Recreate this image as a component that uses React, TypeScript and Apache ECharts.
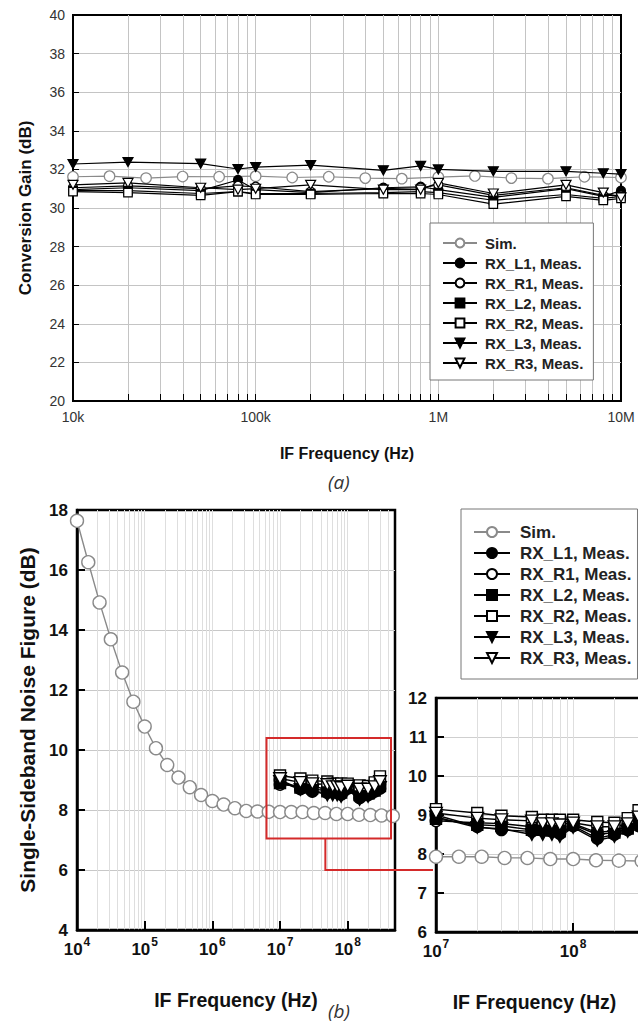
import React, { useEffect, useRef } from 'react';
import * as echarts from 'echarts';

// ---------- (a) Conversion gain ----------
const gainFreqHz = [1e4, 2e4, 5e4, 8e4, 1e5, 2e5, 5e5, 8e5, 1e6, 2e6, 5e6, 8e6, 1e7];
const gainSimFreqHz = [1e4, 1.585e4, 2.512e4, 3.981e4, 6.31e4, 1e5, 1.585e5, 2.512e5, 3.981e5, 6.31e5, 1e6, 1.585e6, 2.512e6, 3.981e6, 6.31e6, 1e7];
const gainSim = [31.62, 31.65, 31.55, 31.63, 31.62, 31.65, 31.58, 31.62, 31.55, 31.52, 31.6, 31.66, 31.55, 31.52, 31.62, 31.58];
const gainL1 = [30.95, 31.05, 30.9, 31.45, 30.95, 30.8, 31.05, 31.1, 30.95, 30.55, 31.0, 30.6, 30.9];
const gainR1 = [31.05, 31.15, 31.0, 31.15, 31.1, 30.85, 31.0, 31.05, 31.2, 30.65, 31.05, 30.65, 30.65];
const gainL2 = [30.9, 30.9, 30.75, 30.85, 30.75, 30.75, 30.8, 30.85, 30.8, 30.4, 30.7, 30.5, 30.6];
const gainR2 = [30.85, 30.8, 30.65, 30.85, 30.7, 30.7, 30.75, 30.75, 30.7, 30.2, 30.6, 30.4, 30.5];
const gainL3 = [32.28, 32.38, 32.3, 32.02, 32.12, 32.22, 31.95, 32.18, 32.0, 31.9, 31.9, 31.8, 31.76];
const gainR3 = [31.2, 31.3, 31.05, 30.95, 31.0, 31.2, 30.95, 30.95, 31.3, 30.75, 31.2, 30.8, 30.55];
const gainXTickLabels = ['10k', '100k', '1M', '10M'];
const gainYTicks = [20, 22, 24, 26, 28, 30, 32, 34, 36, 38, 40];

// ---------- (b) Noise figure ----------
const nfSimFreqHz = [1e4, 1.468e4, 2.154e4, 3.162e4, 4.642e4, 6.813e4, 1e5, 1.468e5, 2.154e5, 3.162e5, 4.642e5, 6.813e5, 1e6, 1.468e6, 2.154e6, 3.162e6, 4.642e6, 6.813e6, 1e7, 1.468e7, 2.154e7, 3.162e7, 4.642e7, 6.813e7, 1e8, 1.468e8, 2.154e8, 3.162e8, 4.642e8];
const nfSim = [17.64, 16.26, 14.92, 13.69, 12.58, 11.61, 10.78, 10.06, 9.5, 9.08, 8.76, 8.5, 8.3, 8.18, 8.06, 7.97, 7.95, 7.94, 7.93, 7.93, 7.93, 7.9, 7.9, 7.87, 7.87, 7.84, 7.83, 7.82, 7.8];
const nfFreqHz = [1e7, 2e7, 3e7, 5e7, 6e7, 7e7, 8e7, 1e8, 1.5e8, 2e8, 2.5e8, 3e8];
const nfL1 = [9.0, 8.7, 8.62, 8.58, 8.6, 8.58, 8.52, 8.72, 8.4, 8.5, 8.62, 8.72];
const nfR1 = [8.85, 8.8, 8.78, 8.7, 8.68, 8.68, 8.65, 8.78, 8.55, 8.6, 8.7, 8.85];
const nfL2 = [8.9, 8.75, 8.72, 8.62, 8.62, 8.6, 8.58, 8.75, 8.5, 8.55, 8.65, 8.8];
const nfR2 = [9.15, 9.05, 8.98, 8.95, 8.88, 8.88, 8.88, 8.88, 8.82, 8.8, 8.92, 9.12];
const nfL3 = [8.95, 8.68, 8.65, 8.5, 8.5, 8.5, 8.45, 8.68, 8.35, 8.45, 8.58, 8.75];
const nfR3 = [9.05, 8.92, 8.88, 8.85, 8.78, 8.78, 8.75, 8.8, 8.7, 8.7, 8.78, 8.95];
const nfDecadeExponents = ['4', '5', '6', '7', '8'];
const nfYTicks = [4, 6, 8, 10, 12, 14, 16, 18];
const insetYTicks = [6, 7, 8, 9, 10, 11, 12];

// zoom-box annotation (log10 Hz, dB)
const zoomBoxLogHz = [6.8, 8.64];
const zoomBoxDb = [7.05, 10.4];
const connectorLogHz = 7.67;
const connectorDb = 6;

const seriesNames = ['Sim.', 'RX_L1, Meas.', 'RX_R1, Meas.', 'RX_L2, Meas.', 'RX_R2, Meas.', 'RX_L3, Meas.', 'RX_R3, Meas.'];
const mantissas = [1, 2, 3, 4, 5, 6, 7, 8, 9];

const GRAY = '#8a8a8a';
const TRI_DOWN = 'path://M0,0L12,0L6,10.4Z';
const FONT = '"Liberation Sans", Arial, sans-serif';

const styles = [
  { symbol: 'circle', filled: false, gray: true },
  { symbol: 'circle', filled: true, gray: false },
  { symbol: 'circle', filled: false, gray: false },
  { symbol: 'rect', filled: true, gray: false },
  { symbol: 'rect', filled: false, gray: false },
  { symbol: TRI_DOWN, filled: true, gray: false },
  { symbol: TRI_DOWN, filled: false, gray: false },
];

function logPositions(d0: number, d1: number, lo: number, hi: number) {
  const out: number[] = [];
  for (let d = d0; d <= d1; d++) {
    for (const m of mantissas) {
      const v = d + Math.log10(m);
      if (v > lo + 1e-9 && v < hi - 1e-9) out.push(v);
    }
  }
  return out;
}

function buildSeries(xAxisIndex: number, yAxisIndex: number, sets: [number[], number[]][], big: boolean) {
  return sets.map(([fx, vy], i) => {
    const st = styles[i];
    const c = st.gray ? GRAY : '#000';
    const base = big ? 11.5 : 9;
    let size: any = st.gray ? base + 1.5 : base;
    if (st.symbol === 'rect') size = base - 0.5;
    if (st.symbol === TRI_DOWN) size = [base + 1, base];
    return {
      type: 'line',
      name: seriesNames[i],
      xAxisIndex,
      yAxisIndex,
      data: fx.map((f, k) => [Math.log10(f), vy[k]]),
      symbol: st.symbol,
      symbolSize: size,
      showSymbol: true,
      showAllSymbol: true,
      lineStyle: { color: c, width: big ? 1.4 : 1.2 },
      itemStyle: { color: st.filled ? '#000' : '#fff', borderColor: c, borderWidth: big ? 1.4 : 1.2 },
      emphasis: { disabled: true },
      silent: true,
      clip: true,
      z: st.gray ? 2 : 3,
      animation: false,
    };
  });
}

const nfMaxLog = Math.log10(5e8);

const axisNameBold = (size: number) => ({ fontSize: size, fontWeight: 'bold', color: '#111', fontFamily: FONT });

const decadeLabel = {
  formatter: (v: number) => `{b|10}{s|${nfDecadeExponents[Math.round(v) - 4]}}`,
  rich: {
    b: { fontSize: 17, fontWeight: 'bold', color: '#111', fontFamily: FONT, lineHeight: 22, verticalAlign: 'bottom' },
    s: { fontSize: 12, fontWeight: 'bold', color: '#111', fontFamily: FONT, lineHeight: 22, verticalAlign: 'top', padding: [0, 0, 6, 1] },
  },
  margin: 6,
};

const option: any = {
  animation: false,
  backgroundColor: '#fff',
  textStyle: { fontFamily: FONT },
  grid: [
    { left: 73, top: 15, width: 548, height: 386, show: true, borderColor: '#000', borderWidth: 2, containLabel: false, outerBoundsMode: 'none' },
    { left: 77, top: 510, width: 318, height: 420, show: true, borderColor: '#000', borderWidth: 2.5, containLabel: false, outerBoundsMode: 'none' },
    { left: 436, top: 698, width: 233, height: 234, show: true, borderColor: '#000', borderWidth: 2.5, containLabel: false, outerBoundsMode: 'none' },
  ],
  xAxis: [
    {
      gridIndex: 0, type: 'value', min: 4, max: 7,
      axisLine: { show: true, onZero: false, lineStyle: { color: '#000', width: 2 } },
      axisTick: { show: true, inside: true, length: 7, customValues: logPositions(4, 6, 4, 7), lineStyle: { color: '#000', width: 1 } },
      axisLabel: { customValues: [4, 5, 6, 7], formatter: (v: number) => gainXTickLabels[Math.round(v) - 4], fontSize: 14, color: '#333', margin: 9 },
      splitLine: { show: true, lineStyle: { color: '#c4c4c4', width: 1 } },
      name: 'IF Frequency (Hz)', nameLocation: 'middle', nameGap: 44, nameMoveOverlap: false,
      nameTextStyle: axisNameBold(16),
    },
    {
      gridIndex: 1, type: 'value', min: 4, max: nfMaxLog,
      axisLine: { show: true, onZero: false, lineStyle: { color: '#000', width: 2.5 } },
      axisTick: { show: true, inside: true, length: 9, customValues: [5, 6, 7, 8], lineStyle: { color: '#000', width: 2 } },
      axisLabel: { customValues: [4, 5, 6, 7, 8], ...decadeLabel },
      splitLine: { show: false },
      name: 'IF Frequency (Hz)', nameLocation: 'middle', nameGap: 60, nameMoveOverlap: false,
      nameTextStyle: axisNameBold(19.5),
    },
    {
      gridIndex: 2, type: 'value', min: 7, max: nfMaxLog,
      axisLine: { show: true, onZero: false, lineStyle: { color: '#000', width: 2.5 } },
      axisTick: { show: true, inside: true, length: 9, customValues: [8], lineStyle: { color: '#000', width: 2 } },
      axisLabel: { customValues: [7, 8], ...decadeLabel },
      splitLine: { show: false },
      name: 'IF Frequency (Hz)', nameLocation: 'middle', nameGap: 60, nameMoveOverlap: false,
      nameTextStyle: { ...axisNameBold(19.5), padding: [0, 36, 0, 0] },
    },
    {
      gridIndex: 1, type: 'value', min: 4, max: nfMaxLog,
      axisLine: { show: false }, axisLabel: { show: false },
      axisTick: { show: false, customValues: logPositions(4, 8, 4, nfMaxLog) },
      splitLine: { show: true, lineStyle: { color: '#dedede', width: 1 } },
    },
    {
      gridIndex: 2, type: 'value', min: 7, max: nfMaxLog,
      axisLine: { show: false }, axisLabel: { show: false },
      axisTick: { show: false, customValues: logPositions(7, 8, 7, nfMaxLog) },
      splitLine: { show: true, lineStyle: { color: '#dedede', width: 1 } },
    },
  ],
  yAxis: [
    {
      gridIndex: 0, type: 'value', min: 20, max: 40,
      axisLine: { show: true, onZero: false, lineStyle: { color: '#000', width: 2 } },
      axisTick: { show: true, inside: true, length: 6, customValues: gainYTicks.slice(1, -1), lineStyle: { color: '#000', width: 1 } },
      axisLabel: { customValues: gainYTicks, fontSize: 14, color: '#333', margin: 8 },
      splitLine: { show: true, lineStyle: { color: '#c4c4c4', width: 1 } },
      name: 'Conversion Gain (dB)', nameLocation: 'middle', nameGap: 39, nameMoveOverlap: false,
      nameTextStyle: axisNameBold(17),
    },
    {
      gridIndex: 1, type: 'value', min: 4, max: 18,
      axisLine: { show: true, onZero: false, lineStyle: { color: '#000', width: 2.5 } },
      axisTick: { show: true, inside: true, length: 8, customValues: nfYTicks.slice(1, -1), lineStyle: { color: '#000', width: 2 } },
      axisLabel: { customValues: nfYTicks, fontSize: 17, fontWeight: 'bold', color: '#111', margin: 9 },
      splitLine: { show: true, lineStyle: { color: '#c8c8c8', width: 1 } },
      name: 'Single-Sideband Noise Figure (dB)', nameLocation: 'middle', nameGap: 39, nameMoveOverlap: false,
      nameTextStyle: axisNameBold(21),
    },
    {
      gridIndex: 2, type: 'value', min: 6, max: 12,
      axisLine: { show: true, onZero: false, lineStyle: { color: '#000', width: 2.5 } },
      axisTick: { show: true, inside: true, length: 8, customValues: insetYTicks.slice(1, -1), lineStyle: { color: '#000', width: 2 } },
      axisLabel: { customValues: insetYTicks, fontSize: 17, fontWeight: 'bold', color: '#111', margin: 9 },
      splitLine: { show: true, lineStyle: { color: '#cfcfcf', width: 1 } },
    },
  ],
  legend: [
    {
      orient: 'vertical', left: 430, top: 223, data: seriesNames, selectedMode: false,
      itemWidth: 34, itemHeight: 11, itemGap: 4,
      padding: [12, 10, 9, 12],
      backgroundColor: '#fff', borderColor: '#777', borderWidth: 1,
      textStyle: { fontSize: 15, fontWeight: 'bold', color: '#222', lineHeight: 16, padding: [0, 0, 0, 3], fontFamily: FONT },
    },
    {
      orient: 'vertical', left: 461, top: 509, data: seriesNames, selectedMode: false,
      itemWidth: 36, itemHeight: 12.5, itemGap: 3,
      padding: [14, 6, 12, 12],
      backgroundColor: '#fff', borderColor: '#777', borderWidth: 1,
      textStyle: { fontSize: 17, fontWeight: 'bold', color: '#222', lineHeight: 18, padding: [0, 0, 0, 5], fontFamily: FONT },
    },
  ],
  series: [
    ...buildSeries(0, 0, [[gainSimFreqHz, gainSim], [gainFreqHz, gainL1], [gainFreqHz, gainR1], [gainFreqHz, gainL2], [gainFreqHz, gainR2], [gainFreqHz, gainL3], [gainFreqHz, gainR3]], false),
    ...buildSeries(1, 1, [[nfSimFreqHz, nfSim], [nfFreqHz, nfL1], [nfFreqHz, nfR1], [nfFreqHz, nfL2], [nfFreqHz, nfR2], [nfFreqHz, nfL3], [nfFreqHz, nfR3]], true),
    ...buildSeries(2, 2, [[nfSimFreqHz, nfSim], [nfFreqHz, nfL1], [nfFreqHz, nfR1], [nfFreqHz, nfL2], [nfFreqHz, nfR2], [nfFreqHz, nfL3], [nfFreqHz, nfR3]], true),
  ],
};

export default function App() {
  const ref = useRef<HTMLDivElement>(null);
  useEffect(() => {
    if (!ref.current) return;
    const chart = echarts.init(ref.current, null, { renderer: 'svg' });
    chart.setOption(option);
    const p = (s: number, v: number[]) => chart.convertToPixel({ seriesIndex: s }, v) as number[];
    const b0 = p(7, [zoomBoxLogHz[0], zoomBoxDb[1]]);
    const b1 = p(7, [zoomBoxLogHz[1], zoomBoxDb[0]]);
    const c0 = p(7, [connectorLogHz, zoomBoxDb[0]]);
    const c1 = p(7, [connectorLogHz, connectorDb]);
    const insetLeft = p(14, [7, 6])[0];
    chart.setOption({
      graphic: [
        { type: 'rect', z: 10, shape: { x: b0[0], y: b0[1], width: b1[0] - b0[0], height: b1[1] - b0[1] }, style: { fill: 'none', stroke: '#d42a2a', lineWidth: 2 } },
        { type: 'polyline', z: 10, shape: { points: [c0, c1, [insetLeft - 3, c1[1]]] }, style: { fill: 'none', stroke: '#d42a2a', lineWidth: 2 } },
        { type: 'text', left: 328, top: 472, style: { text: '(a)', fontSize: 19, fontStyle: 'italic', fontFamily: '"Open Sans", sans-serif', fill: '#333' } },
        { type: 'text', left: 328, top: 1001, style: { text: '(b)', fontSize: 19, fontStyle: 'italic', fontFamily: '"Open Sans", sans-serif', fill: '#333' } },
      ],
    });
    return () => chart.dispose();
  }, []);
  return <div ref={ref} style={{ position: 'absolute', left: 0, top: 0, width: 638, height: 1024, background: '#fff' }} />;
}
